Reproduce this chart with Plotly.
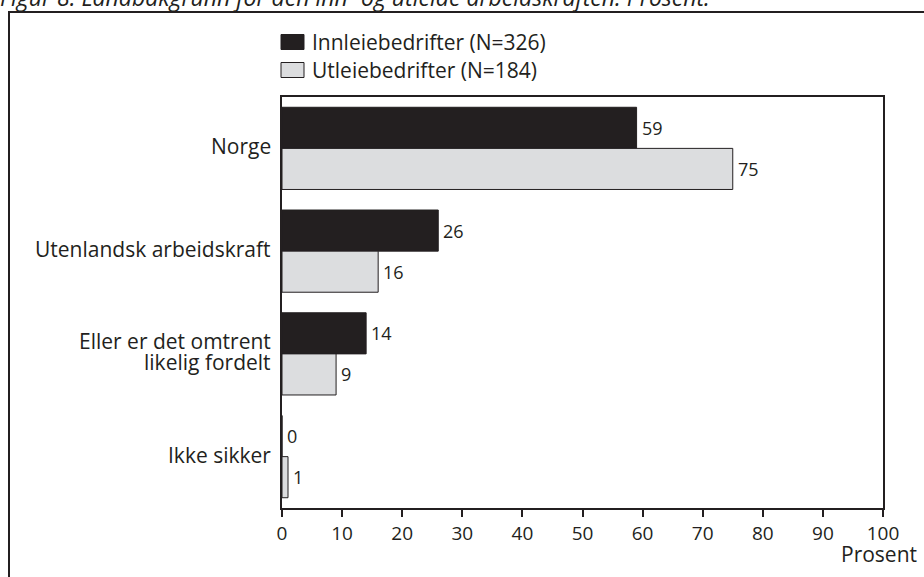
import plotly.graph_objects as go

# Data
categories = ["Norge", "Utenlandsk arbeidskraft", "Eller er det omtrent<br>likelig fordelt", "Ikke sikker"]
innleie = [59, 26, 14, 0]
utleie = [75, 16, 9, 1]
series_names = ["Innleiebedrifter (N=326)", "Utleiebedrifter (N=184)"]
x_ticks = [0, 10, 20, 30, 40, 50, 60, 70, 80, 90, 100]
title_text = "Figur 8: Landbakgrunn for den inn- og utleide arbeidskraften. Prosent."

W, H = 924, 577
ML, MR, MT, MB = 282, 41, 97, 69
PW, PH = W - ML - MR, H - MT - MB

FONT = "Open Sans"
INK = "#231f20"
DARK = "#231f20"
LIGHT = "#dcdddf"
FS_NUM = 18     # bar values
FS_TICK = 19    # x tick labels
FS_TXT = 21     # words: category labels, legend, axis caption
FS_TITLE = 23
LINE_H = 21


def px(x):
    return (x - ML) / PW


def py(y):
    return (H - MB - y) / PH


fig = go.Figure()
fig.add_trace(go.Bar(y=categories, x=innleie, orientation="h", name=series_names[0],
                     marker=dict(color=DARK, line=dict(color=INK, width=1))))
fig.add_trace(go.Bar(y=categories, x=utleie, orientation="h", name=series_names[1],
                     marker=dict(color=LIGHT, line=dict(color=INK, width=1))))

annotations = []

# value labels at the end of each bar
group_px = PH / len(categories)
offset = 0.2 * group_px
for vals, shift in ((innleie, offset), (utleie, -offset)):
    for cat, v in zip(categories, vals):
        annotations.append(dict(x=v, y=cat, xref="x", yref="y", text=str(v), showarrow=False,
                                xanchor="left", yanchor="middle", xshift=3, yshift=shift,
                                font=dict(family=FONT, size=FS_NUM, color=INK)))

# category labels, right-aligned against the axis, one annotation per line
for cat in categories:
    lines = cat.split("<br>")
    n = len(lines)
    for i, line in enumerate(lines):
        annotations.append(dict(x=px(273), y=cat, xref="paper", yref="y", text=line,
                                showarrow=False, xanchor="right", yanchor="middle",
                                yshift=((n - 1) / 2 - i) * LINE_H + 2,
                                font=dict(family=FONT, size=FS_TXT, color=INK)))

# axis caption
annotations.append(dict(x=px(919), y=py(554), xref="paper", yref="paper", text="Prosent",
                        showarrow=False, xanchor="right", yanchor="middle",
                        font=dict(family=FONT, size=FS_TXT, color=INK)))

# figure caption, running off the top edge
annotations.append(dict(x=px(-2), y=py(-3), xref="paper", yref="paper", text="<i>" + title_text + "</i>",
                        showarrow=False, xanchor="left", yanchor="middle",
                        font=dict(family=FONT, size=FS_TITLE, color=INK)))

# legend
shapes = []
legend_rows = [(series_names[0], DARK, 42), (series_names[1], LIGHT, 70)]
for name, color, cy in legend_rows:
    shapes.append(dict(type="rect", xref="paper", yref="paper",
                       x0=px(281), x1=px(304), y0=py(cy - 7.5), y1=py(cy + 7.5),
                       fillcolor=color, line=dict(color=INK, width=1)))
    annotations.append(dict(x=px(310), y=py(cy), xref="paper", yref="paper", text=name,
                            showarrow=False, xanchor="left", yanchor="middle",
                            font=dict(family=FONT, size=FS_TXT, color=INK)))

# outer frame
shapes.append(dict(type="rect", xref="paper", yref="paper",
                   x0=px(9), x1=px(W + 20), y0=py(H + 20), y1=py(12),
                   line=dict(color=INK, width=2), fillcolor="rgba(0,0,0,0)", layer="below"))

fig.update_layout(
    width=W, height=H,
    margin=dict(l=ML, r=MR, t=MT, b=MB, pad=0),
    barmode="group", bargap=0.2, bargroupgap=0,
    paper_bgcolor="white", plot_bgcolor="white",
    showlegend=False,
    font=dict(family=FONT, size=FS_NUM, color=INK),
    annotations=annotations, shapes=shapes,
    xaxis=dict(range=[0, 100], tickvals=x_ticks, ticks="outside", ticklen=7, tickwidth=1.5,
               tickcolor=INK, showline=True, linecolor=INK, linewidth=2, mirror=True,
               showgrid=False, zeroline=False, tickfont=dict(size=FS_TICK)),
    yaxis=dict(range=[3.5, -0.5], ticks="", showline=True, linecolor=INK, linewidth=2,
               mirror=True, showgrid=False, zeroline=False, showticklabels=False),
)

fig.write_html("out.html")
